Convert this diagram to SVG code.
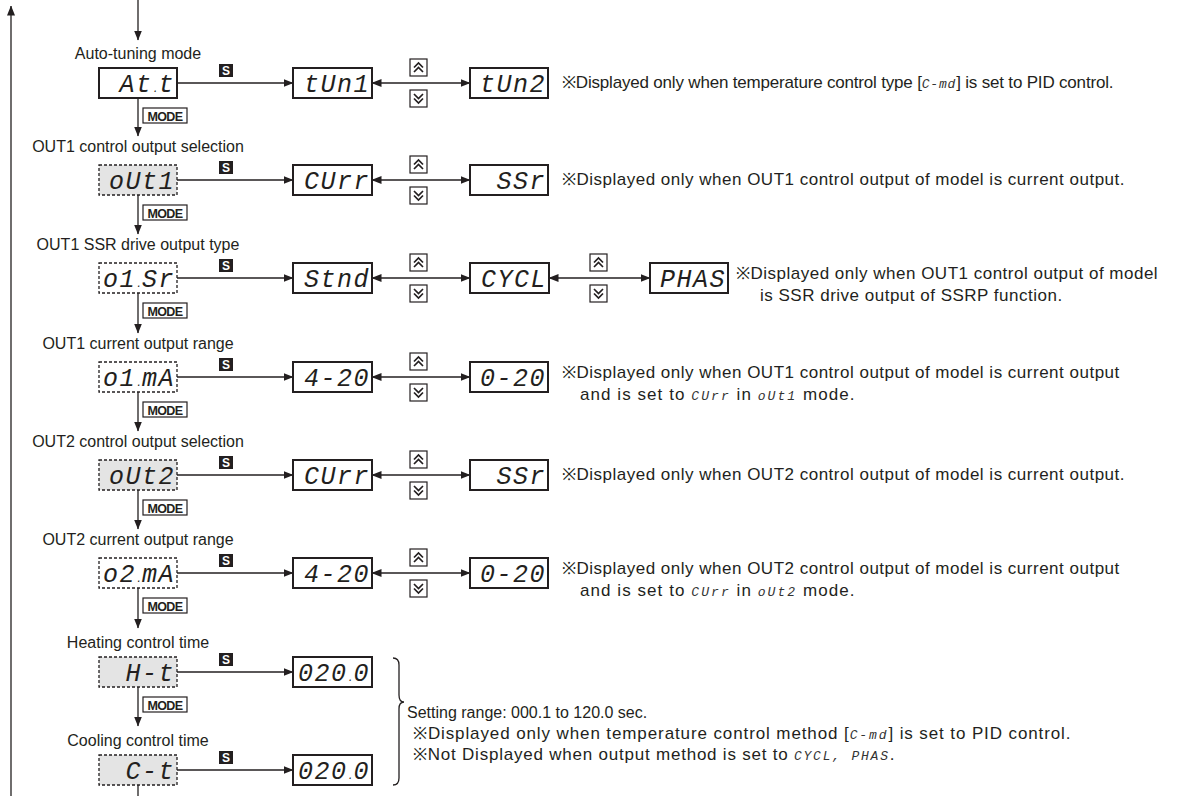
<svg xmlns="http://www.w3.org/2000/svg" width="1188" height="796" viewBox="0 0 1188 796">
<style>
.lbl{font-family:"Liberation Sans",Arial,sans-serif;font-size:16px;fill:#231f20;text-anchor:middle}
.note{font-family:"Liberation Sans",Arial,sans-serif;font-size:17px;letter-spacing:0.5px;fill:#231f20}
.rng{font-family:"Liberation Sans",Arial,sans-serif;font-size:16px;fill:#231f20}
.seg{font-family:"Liberation Mono","DejaVu Sans Mono",monospace;font-style:italic;font-size:13px;letter-spacing:1.5px;fill:#333}
.disp{font-family:"Liberation Mono","DejaVu Sans Mono",monospace;font-style:italic;font-size:25px;letter-spacing:1.5px;fill:#231f20;text-anchor:end}
.dp{font-size:10px;letter-spacing:0}
.box{fill:#fff;stroke:#231f20;stroke-width:2}
.dbox{fill:#fff;stroke:#231f20;stroke-width:1.3;stroke-dasharray:3 2}
.gbox{fill:#e4e4e4;stroke:#231f20;stroke-width:1.3;stroke-dasharray:3 2}
.ln{stroke:#231f20;stroke-width:1.3;fill:none}
.arr{marker-end:url(#ah)}
.dbl{marker-start:url(#ah);marker-end:url(#ah)}
.sk{fill:#231f20}
.st{font-family:"Liberation Sans",Arial,sans-serif;font-weight:bold;font-size:12px;fill:#fff;text-anchor:middle}
.mk{fill:#fff;stroke:#231f20;stroke-width:1.2}
.mt{font-family:"Liberation Sans",Arial,sans-serif;font-weight:bold;font-size:12.5px;fill:#231f20;text-anchor:middle;letter-spacing:-0.6px}
.chev{fill:none;stroke:#231f20;stroke-width:1.7}
</style>
<defs>
<marker id="ah" markerWidth="10" markerHeight="8" refX="9.5" refY="4" orient="auto-start-reverse" markerUnits="userSpaceOnUse"><path d="M0,0 L10,4 L0,8 z" fill="#231f20"/></marker>
<g id="up"><rect class="mk" x="0" y="0" width="17" height="17"/><path class="chev" d="M4,8.5 L8.5,4 L13,8.5 M4,13 L8.5,8.5 L13,13"/></g>
<g id="dn"><rect class="mk" x="0" y="0" width="17" height="17"/><path class="chev" d="M4,4 L8.5,8.5 L13,4 M4,8.5 L8.5,13 L13,8.5"/></g>
<g id="skey"><rect class="sk" x="0" y="0" width="14" height="13"/><text class="st" x="7" y="11">S</text></g>
<g id="mkey"><rect class="mk" x="0" y="0" width="44" height="15"/><text class="mt" x="22" y="12.5">MODE</text></g>
</defs>

<g id="connectors">
<line class="ln arr" x1="11" y1="796" x2="11" y2="6"/>
<line class="ln arr" x1="138" y1="0" x2="138" y2="40"/>
<line class="ln arr" x1="138" y1="98" x2="138" y2="136"/>
<line class="ln arr" x1="138" y1="195" x2="138" y2="234"/>
<line class="ln arr" x1="138" y1="293" x2="138" y2="333"/>
<line class="ln arr" x1="138" y1="392" x2="138" y2="431"/>
<line class="ln arr" x1="138" y1="490" x2="138" y2="529"/>
<line class="ln arr" x1="138" y1="588" x2="138" y2="628"/>
<line class="ln arr" x1="138" y1="687" x2="138" y2="726"/>
<line class="ln" x1="138" y1="785" x2="138" y2="796"/>
<line class="ln arr" x1="177" y1="83" x2="293" y2="83"/>
<line class="ln dbl" x1="372" y1="83" x2="470" y2="83"/>
<line class="ln arr" x1="177" y1="180" x2="293" y2="180"/>
<line class="ln dbl" x1="372" y1="180" x2="470" y2="180"/>
<line class="ln arr" x1="177" y1="278" x2="293" y2="278"/>
<line class="ln dbl" x1="372" y1="278" x2="470" y2="278"/>
<line class="ln dbl" x1="549" y1="278" x2="650" y2="278"/>
<line class="ln arr" x1="177" y1="377" x2="293" y2="377"/>
<line class="ln dbl" x1="372" y1="377" x2="470" y2="377"/>
<line class="ln arr" x1="177" y1="475" x2="293" y2="475"/>
<line class="ln dbl" x1="372" y1="475" x2="470" y2="475"/>
<line class="ln arr" x1="177" y1="573" x2="293" y2="573"/>
<line class="ln dbl" x1="372" y1="573" x2="470" y2="573"/>
<line class="ln arr" x1="177" y1="672" x2="293" y2="672"/>
<line class="ln arr" x1="177" y1="770" x2="293" y2="770"/>
<path class="ln" d="M393,658 Q399,658 399,665 L399,695 Q399,702 404,702 Q399,702 399,709 L399,778 Q399,785 393,785"/>
</g>

<g id="keys">
<use href="#skey" x="219" y="64"/>
<use href="#skey" x="219" y="161"/>
<use href="#skey" x="219" y="259"/>
<use href="#skey" x="219" y="358"/>
<use href="#skey" x="219" y="456"/>
<use href="#skey" x="219" y="554"/>
<use href="#skey" x="219" y="653"/>
<use href="#skey" x="219" y="751"/>
<use href="#mkey" x="143" y="108"/>
<use href="#mkey" x="143" y="205"/>
<use href="#mkey" x="143" y="303"/>
<use href="#mkey" x="143" y="402"/>
<use href="#mkey" x="143" y="500"/>
<use href="#mkey" x="143" y="598"/>
<use href="#mkey" x="143" y="697"/>
<use href="#up" x="410" y="59"/><use href="#dn" x="410" y="90"/>
<use href="#up" x="410" y="156"/><use href="#dn" x="410" y="187"/>
<use href="#up" x="410" y="254"/><use href="#dn" x="410" y="285"/>
<use href="#up" x="590" y="254"/><use href="#dn" x="590" y="285"/>
<use href="#up" x="410" y="353"/><use href="#dn" x="410" y="384"/>
<use href="#up" x="410" y="451"/><use href="#dn" x="410" y="482"/>
<use href="#up" x="410" y="549"/><use href="#dn" x="410" y="580"/>
</g>

<g id="row1">
<text class="lbl" x="138" y="59">Auto-tuning mode</text>
<g id="n-att"><rect class="box" x="99" y="68" width="78" height="30"/><text class="disp" x="175" y="92">At<tspan class="dp">.</tspan>t</text></g>
<g id="n-tun1"><rect class="box" x="293" y="68" width="79" height="30"/><text class="disp" x="370" y="92">tUn1</text></g>
<g id="n-tun2"><rect class="box" x="470" y="68" width="78" height="30"/><text class="disp" x="546" y="92">tUn2</text></g>
<text class="note" x="562" y="88" textLength="552">※Displayed only when temperature control type [<tspan class="seg">C-md</tspan>] is set to PID control.</text>
</g>

<g id="row2">
<text class="lbl" x="138" y="152">OUT1 control output selection</text>
<g id="n-out1"><rect class="gbox" x="99" y="165" width="78" height="30"/><text class="disp" x="175" y="189">oUt1</text></g>
<g id="n-curr1"><rect class="box" x="293" y="165" width="79" height="30"/><text class="disp" x="370" y="189">CUrr</text></g>
<g id="n-ssr1"><rect class="box" x="470" y="165" width="78" height="30"/><text class="disp" x="546" y="189">SSr</text></g>
<text class="note" x="562" y="185">※Displayed only when OUT1 control output of model is current output.</text>
</g>

<g id="row3">
<text class="lbl" x="138" y="250">OUT1 SSR drive output type</text>
<g id="n-o1sr"><rect class="dbox" x="99" y="263" width="78" height="30"/><text class="disp" x="175" y="287">o1<tspan class="dp">.</tspan>Sr</text></g>
<g id="n-stnd"><rect class="box" x="293" y="263" width="79" height="30"/><text class="disp" x="370" y="287">Stnd</text></g>
<g id="n-cycl"><rect class="box" x="470" y="263" width="79" height="30"/><text class="disp" x="547" y="287">CYCL</text></g>
<g id="n-phas"><rect class="box" x="650" y="263" width="78" height="30"/><text class="disp" x="726" y="287">PHAS</text></g>
<text class="note" x="736" y="279">※Displayed only when OUT1 control output of model</text>
<text class="note" x="760" y="301">is SSR drive output of SSRP function.</text>
</g>

<g id="row4">
<text class="lbl" x="138" y="349">OUT1 current output range</text>
<g id="n-o1ma"><rect class="dbox" x="99" y="362" width="78" height="30"/><text class="disp" x="175" y="386">o1<tspan class="dp">.</tspan>mA</text></g>
<g id="n-420a"><rect class="box" x="293" y="362" width="79" height="30"/><text class="disp" x="370" y="386">4-20</text></g>
<g id="n-020a"><rect class="box" x="470" y="362" width="78" height="30"/><text class="disp" x="546" y="386">0-20</text></g>
<text class="note" x="562" y="378">※Displayed only when OUT1 control output of model is current output</text>
<text class="note" x="580" y="400" textLength="275">and is set to <tspan class="seg">CUrr</tspan> in <tspan class="seg">oUt1</tspan> mode.</text>
</g>

<g id="row5">
<text class="lbl" x="138" y="447">OUT2 control output selection</text>
<g id="n-out2"><rect class="gbox" x="99" y="460" width="78" height="30"/><text class="disp" x="175" y="484">oUt2</text></g>
<g id="n-curr2"><rect class="box" x="293" y="460" width="79" height="30"/><text class="disp" x="370" y="484">CUrr</text></g>
<g id="n-ssr2"><rect class="box" x="470" y="460" width="78" height="30"/><text class="disp" x="546" y="484">SSr</text></g>
<text class="note" x="562" y="480">※Displayed only when OUT2 control output of model is current output.</text>
</g>

<g id="row6">
<text class="lbl" x="138" y="545">OUT2 current output range</text>
<g id="n-o2ma"><rect class="dbox" x="99" y="558" width="78" height="30"/><text class="disp" x="175" y="582">o2<tspan class="dp">.</tspan>mA</text></g>
<g id="n-420b"><rect class="box" x="293" y="558" width="79" height="30"/><text class="disp" x="370" y="582">4-20</text></g>
<g id="n-020b"><rect class="box" x="470" y="558" width="78" height="30"/><text class="disp" x="546" y="582">0-20</text></g>
<text class="note" x="562" y="574">※Displayed only when OUT2 control output of model is current output</text>
<text class="note" x="580" y="596" textLength="275">and is set to <tspan class="seg">CUrr</tspan> in <tspan class="seg">oUt2</tspan> mode.</text>
</g>

<g id="row7">
<text class="lbl" x="138" y="648">Heating control time</text>
<g id="n-ht"><rect class="gbox" x="99" y="657" width="78" height="30"/><text class="disp" x="175" y="681">H-t</text></g>
<g id="n-ht-val"><rect class="box" x="293" y="657" width="79" height="30"/><text class="disp" x="370" y="681">020<tspan class="dp">.</tspan>0</text></g>
</g>

<g id="row8">
<text class="lbl" x="138" y="746">Cooling control time</text>
<g id="n-ct"><rect class="gbox" x="99" y="755" width="78" height="30"/><text class="disp" x="175" y="779">C-t</text></g>
<g id="n-ct-val"><rect class="box" x="293" y="755" width="79" height="30"/><text class="disp" x="370" y="779">020<tspan class="dp">.</tspan>0</text></g>
</g>

<g id="range-note">
<text class="rng" x="407" y="718">Setting range: 000.1 to 120.0 sec.</text>
<text class="note" x="413" y="739" textLength="658">※Displayed only when temperature control method [<tspan class="seg">C-md</tspan>] is set to PID control.</text>
<text class="note" x="413" y="760" textLength="482">※Not Displayed when output method is set to <tspan class="seg">CYCL, PHAS</tspan>.</text>
</g>
</svg>
